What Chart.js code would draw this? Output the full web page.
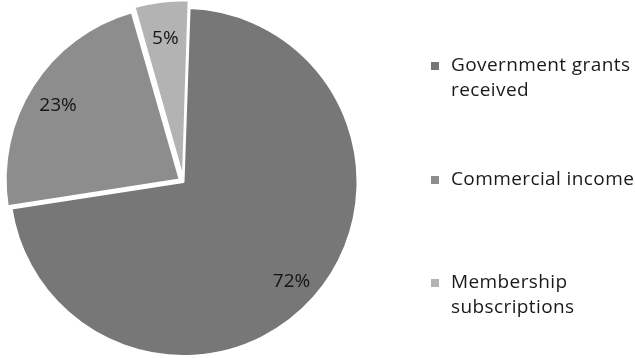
<!DOCTYPE html>
<html>
<head>
<meta charset="utf-8">
<script src="https://cdn.jsdelivr.net/npm/chart.js@4/dist/chart.umd.min.js"></script>
<style>
html,body{margin:0;padding:0;background:#fff;}
#wrap{position:relative;width:635px;height:358px;}
</style>
</head>
<body>
<div id="wrap"><canvas id="c" width="635" height="358"></canvas></div>
<script>
const categories = ["Government grants received", "Commercial income", "Membership subscriptions"];
const legendLines = [["Government grants", "received"], ["Commercial income"], ["Membership", "subscriptions"]];
const values = [72, 23, 5];
const valueLabels = ["72%", "23%", "5%"];
const sliceColors = ["#777777", "#8d8d8d", "#b3b3b3"];
const sliceOffsets = [0, 18, 18];

const labelPlugin = {
  id: 'sliceLabels',
  afterDatasetsDraw(chart) {
    const ctx = chart.ctx;
    const meta = chart.getDatasetMeta(0);
    ctx.save();
    ctx.font = '19px "Open Sans", sans-serif';
    ctx.fillStyle = '#151515';
    ctx.textAlign = 'center';
    ctx.textBaseline = 'middle';
    meta.data.forEach((arc, i) => {
      const mid = (arc.startAngle + arc.endAngle) / 2;
      const r = arc.outerRadius * 0.83 + sliceOffsets[i] / 4;
      ctx.fillText(valueLabels[i], arc.x + Math.cos(mid) * r, arc.y + Math.sin(mid) * r + 4);
    });
    ctx.restore();
  }
};

const legendPlugin = {
  id: 'sideLegend',
  afterDraw(chart) {
    const ctx = chart.ctx;
    const itemY = [66, 180, 283];
    ctx.save();
    ctx.font = '19px "Open Sans", sans-serif';
    try { ctx.letterSpacing = '0.4px'; } catch (e) {}
    ctx.textBaseline = 'middle';
    ctx.textAlign = 'left';
    legendLines.forEach((lines, i) => {
      ctx.fillStyle = sliceColors[i];
      ctx.fillRect(431, itemY[i] - 4, 8, 8);
      ctx.fillStyle = '#1a1a1a';
      lines.forEach((t, j) => ctx.fillText(t, 451, itemY[i] + j * 25));
    });
    ctx.restore();
  }
};

new Chart(document.getElementById('c'), {
  type: 'pie',
  data: {
    labels: categories,
    datasets: [{
      data: values,
      backgroundColor: sliceColors,
      borderColor: '#ffffff',
      borderWidth: 2,
      offset: sliceOffsets
    }]
  },
  options: {
    responsive: false,
    animation: false,
    radius: 174,
    rotation: 2,
    layout: { padding: { left: 0, right: 268, top: 6, bottom: 0 } },
    plugins: { legend: { display: false }, tooltip: { enabled: false } }
  },
  plugins: [labelPlugin, legendPlugin]
});
</script>
</body>
</html>
